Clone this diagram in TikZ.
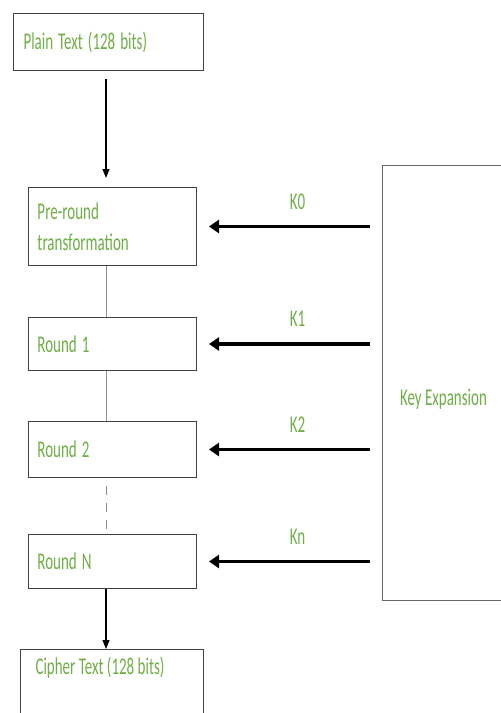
\documentclass[tikz,border=0pt]{standalone}
\usepackage{fontspec}
\setmainfont{Carlito}
\usetikzlibrary{arrows.meta}
\definecolor{keygreen}{RGB}{112,173,71}
\definecolor{boxgray}{RGB}{64,64,64}
\definecolor{linkgray}{RGB}{140,140,140}
\newcommand{\tallt}[1]{\scalebox{1}[1.6]{#1}}
\tikzset{
  stage/.style={draw=boxgray, line width=1pt, anchor=north west, minimum width=168pt,
    text width=150pt, align=left, inner xsep=9pt, text=keygreen,
    font=\fontsize{15}{31}\selectfont},
  klabel/.style={text=keygreen, font=\fontsize{15}{18}\selectfont},
  flow/.style={-{Triangle[length=9pt,width=7pt]}, line width=1.2pt},
  keyarrow/.style={-{Triangle[length=10pt,width=13pt]}, line width=3.5pt},
  link/.style={draw=linkgray, line width=1pt},
}
\begin{document}
\begin{tikzpicture}[x=1pt,y=-1pt]
  \useasboundingbox (0,0) rectangle (501,713);
  \clip (0,0) rectangle (501,713);
  \coordinate (axis) at (106,0);

  % main column
  \node[stage, minimum height=57pt, minimum width=190pt, text width=170pt, inner xsep=10pt]
    (plain) at (13,13) {\tallt{Plain Text (128 bits)}};
  \node[stage, minimum height=78pt] (pre) at (28,187) {\tallt{Pre-round}\\\tallt{transformation}};
  \node[stage, minimum height=53pt] (r1) at (28,317) {\tallt{Round 1}};
  \node[stage, minimum height=56pt] (r2) at (28,421) {\tallt{Round 2}};
  \node[stage, minimum height=54pt] (rN) at (28,534) {\tallt{Round N}};
  \node[stage, minimum height=90pt, minimum width=183pt] (cipher) at (20,649) {};
  \node[klabel, anchor=west] (ctext) at ([xshift=12pt,yshift=-19pt]cipher.north west)
    {\tallt{Cipher Text (128 bits)}};

  % key schedule
  \node[draw=black!60, line width=1pt, anchor=north west, minimum width=122pt, minimum height=435pt]
    (key) at (382,165) {};
  \node[klabel] (ktext) at ([yshift=-16pt]key.center) {\tallt{Key Expansion}};

  \draw[flow] ([yshift=-8pt]plain.south -| axis) -- ([yshift=9pt]pre.north -| axis);
  \draw[link] (pre.south -| axis) -- (r1.north -| axis);
  \draw[link] (r1.south -| axis) -- (r2.north -| axis);
  \draw[link, dash pattern=on 9pt off 8pt] ([yshift=-8pt]r2.south -| axis) -- (rN.north -| axis);
  \draw[flow] (rN.south -| axis) -- (cipher.north -| axis);

  \draw[keyarrow] ([xshift=-12pt]key.west |- pre.east) -- ([xshift=12pt]pre.east)
    node[klabel, pos=0.45, above=12pt] {\tallt{K0}};
  \draw[keyarrow] ([xshift=-12pt]key.west |- r1.east) -- ([xshift=12pt]r1.east)
    node[klabel, pos=0.45, above=12pt] {\tallt{K1}};
  \draw[keyarrow] ([xshift=-12pt]key.west |- r2.east) -- ([xshift=12pt]r2.east)
    node[klabel, pos=0.45, above=12pt] {\tallt{K2}};
  \draw[keyarrow] ([xshift=-12pt]key.west |- rN.east) -- ([xshift=12pt]rN.east)
    node[klabel, pos=0.45, above=12pt] {\tallt{Kn}};
\end{tikzpicture}
\end{document}
